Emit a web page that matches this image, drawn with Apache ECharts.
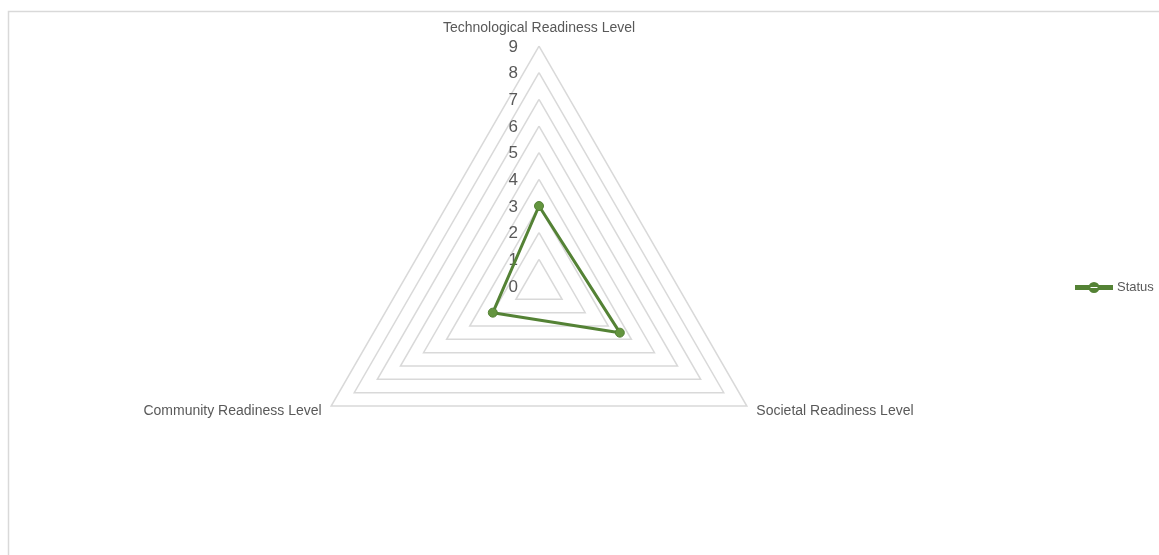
<!DOCTYPE html>
<html>
<head>
<meta charset="utf-8">
<script src="https://cdn.jsdelivr.net/npm/echarts@6/dist/echarts.min.js"></script>
<style>
  html, body { margin: 0; padding: 0; background: #ffffff; }
  #chart { width: 1159px; height: 555px; }
</style>
</head>
<body>
<div id="chart"></div>
<script>
// Readiness levels, one value per dimension
const indicatorNames = ['Technological Readiness Level', 'Community Readiness Level', 'Societal Readiness Level'];
const statusValues = [3, 2, 3.5];
const levelTicks = ['0', '1', '2', '3', '4', '5', '6', '7', '8', '9'];
const seriesName = 'Status';

const levelMax = levelTicks.length - 1;
const center = [539, 286];
const radius = 240;
const textColor = '#595959';
const gridColor = '#d9d9d9';
const lineColor = '#548235';

// legend glyph: a short line with a round marker in the middle
const legendIcon = 'path://M0,3.5H36V6.5H0Z M13.5,5a4.5,4.5 0 1,0 9,0a4.5,4.5 0 1,0 -9,0Z';

const chart = echarts.init(document.getElementById('chart'), null, { renderer: 'canvas' });

chart.setOption({
  backgroundColor: '#ffffff',
  animation: false,
  graphic: [{
    type: 'rect',
    shape: { x: 8.5, y: 11.5, width: 1300, height: 700 },
    style: { fill: 'none', stroke: gridColor, lineWidth: 1.5 },
    silent: true,
    z: -10
  }],
  legend: {
    data: [{ name: seriesName, icon: legendIcon }],
    orient: 'vertical',
    left: 1070,
    top: 276,
    itemWidth: 36,
    itemHeight: 10,
    itemGap: 0,
    itemStyle: { color: lineColor },
    textStyle: { color: textColor, fontSize: 13, fontFamily: 'Liberation Sans' }
  },
  radar: {
    center: center,
    radius: radius,
    shape: 'polygon',
    startAngle: 90,
    splitNumber: levelMax,
    nameGap: 11,
    axisName: {
      color: textColor,
      fontSize: 14,
      fontFamily: 'Liberation Sans'
    },
    indicator: indicatorNames.map(n => ({ name: n, min: 0, max: levelMax })),
    axisLine: { show: false },
    axisTick: { show: false },
    axisLabel: { show: false },
    splitArea: { show: false },
    splitLine: { lineStyle: { color: gridColor, width: 1.5 } }
  },
  polar: { center: [center[0], center[1] + 1], radius: radius },
  angleAxis: {
    startAngle: 90,
    min: 0, max: 360,
    show: false
  },
  radiusAxis: {
    min: 0,
    max: levelMax,
    interval: 1,
    axisLine: { show: false },
    axisTick: { show: false },
    splitLine: { show: false },
    axisLabel: {
      color: textColor,
      fontSize: 17,
      fontFamily: 'Liberation Sans',
      margin: 21,
      formatter: v => levelTicks[v]
    }
  },
  series: [{
    name: seriesName,
    type: 'radar',
    symbol: 'circle',
    symbolSize: 9,
    lineStyle: { color: lineColor, width: 3 },
    itemStyle: { color: '#64953f', borderColor: lineColor, borderWidth: 1 },
    data: [{ value: statusValues, name: seriesName }]
  }]
});
</script>
</body>
</html>
